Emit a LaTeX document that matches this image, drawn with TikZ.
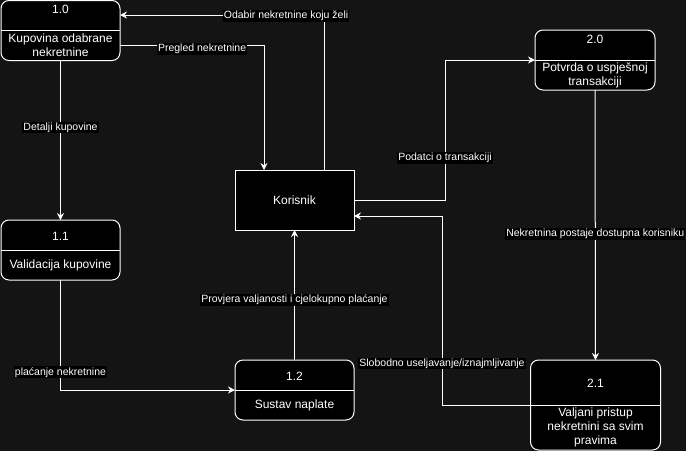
\documentclass[tikz,border=0pt]{standalone}
\usepackage{fontspec}
\setmainfont{Liberation Sans}
\usetikzlibrary{arrows.meta}

\definecolor{bgdark}{HTML}{141414}

\tikzset{
  proc/.style={draw=white, fill=black, rounded corners=8pt, line width=1pt,
    minimum width=119pt, minimum height=60pt, inner sep=0pt, outer sep=0pt},
  ent/.style={draw=white, fill=black, line width=1pt, minimum width=119pt,
    minimum height=60pt, inner sep=0pt, outer sep=0pt, text=white,
    font=\fontsize{12}{14}\selectfont},
  txt/.style={text=white, font=\fontsize{12}{14}\selectfont, align=center, inner sep=0pt},
  divider/.style={draw=white, line width=1pt},
  flow/.style={draw=white, line width=1pt, -{Stealth[length=7pt,width=7pt]}},
  lbl/.style={fill=black, text=white, inner sep=1pt, font=\fontsize{10.5}{12}\selectfont},
}

\begin{document}
\begin{tikzpicture}[x=1pt,y=-1pt]

  \fill[bgdark] (0,0) rectangle (686,451);
  \useasboundingbox (0,0) rectangle (686,451);

  % processes and the user
  \node[proc] (p10) at (60.5,30.5) {};
  \draw[divider] (p10.west) -- (p10.east);
  \node[txt] (p10id) at (60.5,9) {1.0};
  \node[txt] (p10txt) at (60.5,45) {Kupovina odabrane\\nekretnine};

  \node[proc] (p11) at (60.5,250) {};
  \draw[divider] (p11.west) -- (p11.east);
  \node[txt] (p11id) at (60.5,236) {1.1};
  \node[txt] (p11txt) at (60.5,265) {Validacija kupovine};

  \node[ent] (kor) at (294.5,200) {Korisnik};

  \node[proc] (p12) at (294.5,390) {};
  \draw[divider] (p12.west) -- (p12.east);
  \node[txt] (p12id) at (294.5,376) {1.2};
  \node[txt] (p12txt) at (294.5,405) {Sustav naplate};

  \node[proc, minimum width=120pt] (p20) at (595,60) {};
  \draw[divider] (p20.west) -- (p20.east);
  \node[txt] (p20id) at (595,39) {2.0};
  \node[txt] (p20txt) at (595,75) {Potvrda o uspješnoj\\transakciji};

  \node[proc, minimum width=130pt, minimum height=90pt] (p21) at (595.5,405) {};
  \draw[divider] (p21.west) -- (p21.east);
  \node[txt] (p21id) at (595.5,383) {2.1};
  \node[txt] (p21txt) at (595.5,427) {Valjani pristup\\nekretnini sa svim\\pravima};

  % bends
  \coordinate (c6) at (445,60);
  \coordinate (c8) at (442,216);

  % data flows
  \draw[flow] (kor.north -| 324,0) |- node[lbl, pos=0.593, yshift=-1pt] {Odabir nekretnine koju želi} (p10.east |- 0,15);
  \draw[flow] (p10.east |- 0,45) -| node[lbl, pos=0.285, yshift=-4pt] {Pregled nekretnine} (kor.north -| 264,0);
  \draw[flow] (p10.south) -- node[lbl, pos=0.42] {Detalji kupovine} (p11.north);
  \draw[flow] (p11.south) |- node[lbl, pos=0.42] {plaćanje nekretnine} (p12.west);
  \draw[flow] (p12.north) -- node[lbl, pos=0.46] {Provjera valjanosti i cjelokupno plaćanje} (kor.south);
  \draw[flow] (kor.east) -| node[lbl, pos=0.65] {Podatci o transakciji} (c6) -- (p20.west);
  \draw[flow] (p20.south) -- node[lbl, pos=0.533] {Nekretnina postaje dostupna korisniku} (p21.north);
  \draw[flow] (p21.west) -| node[lbl, pos=0.61] {Slobodno useljavanje/iznajmljivanje} (c8) -- (kor.east |- c8);

\end{tikzpicture}
\end{document}
